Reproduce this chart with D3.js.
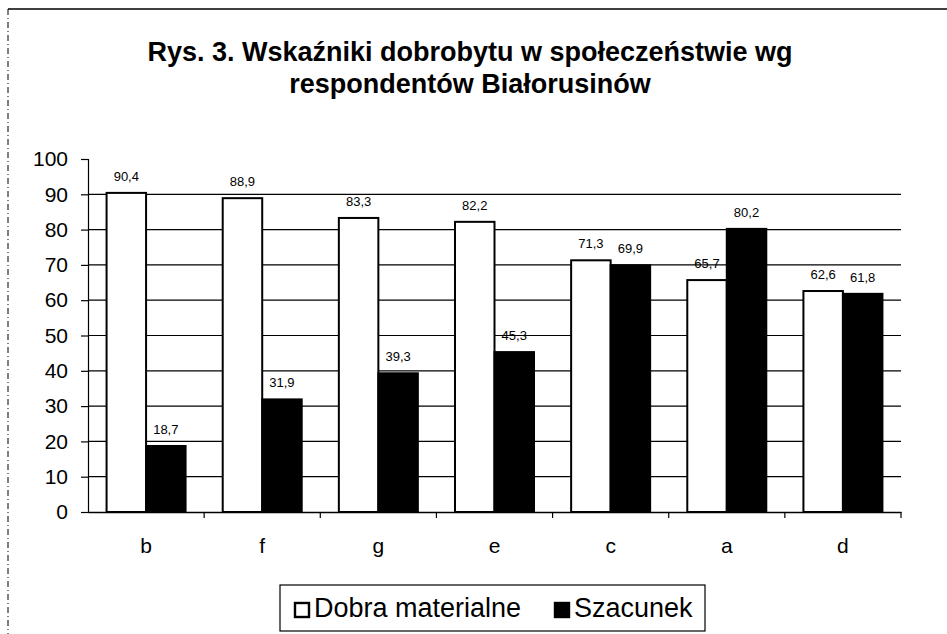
<!DOCTYPE html>
<html>
<head>
<meta charset="utf-8">
<script src="https://cdn.jsdelivr.net/npm/d3@7"></script>
<style>
  body { margin: 0; background: #fff; }
  svg { display: block; font-family: Arial, "Liberation Sans", sans-serif; }
</style>
</head>
<body>
<svg id="chart"></svg>
<script>
const categories = ["b", "f", "g", "e", "c", "a", "d"];
const seriesNames = ["Dobra materialne", "Szacunek"];
const dobraMaterialne = [90.4, 88.9, 83.3, 82.2, 71.3, 65.7, 62.6];
const szacunek = [18.7, 31.9, 39.3, 45.3, 69.9, 80.2, 61.8];
const yTicks = [0, 10, 20, 30, 40, 50, 60, 70, 80, 90, 100];

const WIDTH = 947;
const HEIGHT = 634;
const MARGINS = { left: 88, right: 46, top: 159, bottom: 122 };

const svg = d3.select("#chart").attr("width", WIDTH).attr("height", HEIGHT);

// page scan edges
svg.append("line")
  .attr("x1", 8).attr("x2", WIDTH).attr("y1", 9).attr("y2", 9)
  .attr("stroke", "#000").attr("stroke-width", 1.5);
svg.append("line")
  .attr("x1", 8).attr("x2", 8).attr("y1", 9).attr("y2", HEIGHT)
  .attr("stroke", "#000").attr("stroke-width", 1)
  .attr("stroke-dasharray", "6 3 1 3");

// title
const title = svg.append("text")
  .attr("text-anchor", "middle")
  .attr("font-size", 27)
  .attr("font-weight", "bold");
title.append("tspan").attr("x", 470).attr("y", 61)
  .text("Rys. 3. Wskaźniki dobrobytu w społeczeństwie wg");
title.append("tspan").attr("x", 470).attr("y", 93)
  .text("respondentów Białorusinów");

const x0 = d3.scaleBand()
  .domain(categories)
  .range([MARGINS.left, WIDTH - MARGINS.right]);

const x1 = d3.scaleBand()
  .domain(seriesNames)
  .range([0, x0.bandwidth()])
  .paddingOuter(0.47);

const y = d3.scaleLinear()
  .domain([0, 100])
  .range([HEIGHT - MARGINS.bottom, MARGINS.top]);

// gridlines
svg.append("g")
  .selectAll("line")
  .data(yTicks.filter((d) => d > 0 && d < 100))
  .join("line")
  .attr("x1", MARGINS.left)
  .attr("x2", WIDTH - MARGINS.right)
  .attr("y1", (d) => y(d))
  .attr("y2", (d) => y(d))
  .attr("stroke", "#000")
  .attr("stroke-width", 1.2);

// bars
const rows = categories.map((c, i) => ({
  category: c,
  values: [
    { series: seriesNames[0], value: dobraMaterialne[i] },
    { series: seriesNames[1], value: szacunek[i] },
  ],
}));

const groups = svg.append("g")
  .selectAll("g")
  .data(rows)
  .join("g")
  .attr("transform", (d) => `translate(${x0(d.category)},0)`);

groups.selectAll("rect")
  .data((d) => d.values)
  .join("rect")
  .attr("x", (d) => x1(d.series))
  .attr("width", x1.bandwidth())
  .attr("y", (d) => y(d.value))
  .attr("height", (d) => y(0) - y(d.value))
  .attr("fill", (d) => (d.series === seriesNames[0] ? "#fff" : "#000"))
  .attr("stroke", "#000")
  .attr("stroke-width", 2);

groups.selectAll("text")
  .data((d) => d.values)
  .join("text")
  .attr("x", (d) => x1(d.series) + x1.bandwidth() / 2)
  .attr("y", (d) => y(d.value) - 12)
  .attr("text-anchor", "middle")
  .attr("font-size", 13)
  .text((d) => d3.format(".1f")(d.value).replace(".", ","));

// axes
const yAxis = d3.axisLeft(y).tickValues(yTicks).tickSize(7).tickPadding(13);
svg.append("g")
  .attr("transform", `translate(${MARGINS.left},0)`)
  .call(yAxis)
  .call((g) => g.selectAll("text").attr("font-size", 21).attr("fill", "#000"))
  .call((g) => g.selectAll("line,path").attr("stroke", "#000").attr("stroke-width", 1.2));

const xAxis = d3.axisBottom(x0).tickSize(0).tickPadding(26).tickSizeOuter(0);
const xg = svg.append("g")
  .attr("transform", `translate(0,${y(0)})`)
  .call(xAxis)
  .call((g) => g.selectAll("text").attr("font-size", 21).attr("fill", "#000"))
  .call((g) => g.select("path").attr("stroke", "#000").attr("stroke-width", 1.5));

// tick marks at category boundaries
xg.selectAll(".boundary")
  .data(categories.slice(1).map((c) => x0(c)).concat([x0.range()[1]]))
  .join("line")
  .attr("class", "boundary")
  .attr("x1", (d) => d).attr("x2", (d) => d)
  .attr("y1", 0).attr("y2", 6)
  .attr("stroke", "#000").attr("stroke-width", 1.2);

// legend
const legend = svg.append("g").attr("transform", "translate(280,585)");
legend.append("rect")
  .attr("width", 425).attr("height", 46)
  .attr("fill", "#fff").attr("stroke", "#000").attr("stroke-width", 1.2);

const legendItems = legend.selectAll("g")
  .data(seriesNames)
  .join("g")
  .attr("transform", (d, i) => `translate(${[15, 275][i]},0)`);

legendItems.append("rect")
  .attr("y", 18).attr("width", 14).attr("height", 14)
  .attr("fill", (d, i) => (i === 0 ? "#fff" : "#000"))
  .attr("stroke", "#000").attr("stroke-width", 2.4);

legendItems.append("text")
  .attr("x", 19).attr("y", 32)
  .attr("font-size", 27)
  .text((d) => d);
</script>
</body>
</html>
